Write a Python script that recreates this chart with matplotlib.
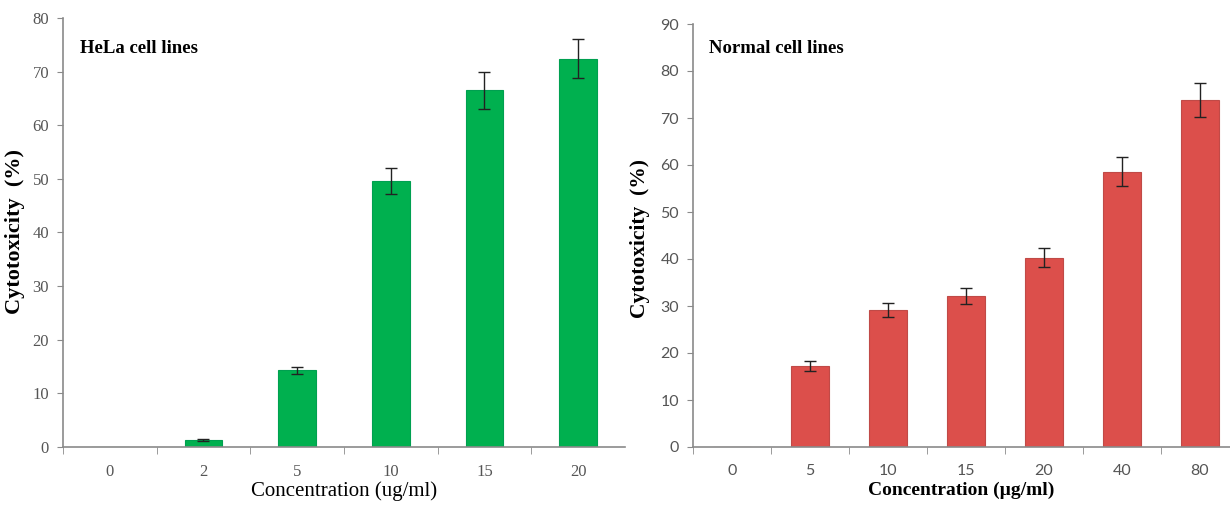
import matplotlib.pyplot as plt
import numpy as np

# Dati
hela_conc = ['0', '2', '5', '10', '15', '20']
hela_vals = [0, 1.3, 14.3, 49.6, 66.5, 72.4]
hela_err = [0, 0.2, 0.6, 2.4, 3.5, 3.6]

norm_conc = ['0', '5', '10', '15', '20', '40', '80']
norm_vals = [0, 17.2, 29.2, 32.2, 40.3, 58.6, 73.8]
norm_err = [0, 1.0, 1.5, 1.7, 2.0, 3.0, 3.6]

GRIGIO = '#8a8a8a'
TESTO = '#555555'

fig = plt.figure(figsize=(12.3, 5.05), dpi=100)
ax1 = fig.add_axes([63 / 1230, 58 / 505, 562 / 1230, 429 / 505])
ax2 = fig.add_axes([693 / 1230, 58 / 505, 537 / 1230, 423 / 505])


def stile_assi(ax, n, xmax, ymax, tick_font, tick_size):
    for s in ['top', 'right']:
        ax.spines[s].set_visible(False)
    for s in ['left', 'bottom']:
        ax.spines[s].set_color(GRIGIO)
        ax.spines[s].set_linewidth(1.2)
    ax.set_xlim(-0.5, xmax)
    ax.set_ylim(0, ymax)
    ax.set_yticks(np.arange(0, ymax + 1, 10))
    ax.set_xticks(np.arange(n) - 0.5, minor=True)
    ax.tick_params(axis='x', which='major', length=0, pad=12)
    ax.tick_params(axis='x', which='minor', length=5, color=GRIGIO, direction='out')
    ax.tick_params(axis='y', length=4, color=GRIGIO, pad=6)
    for lab in ax.get_xticklabels() + ax.get_yticklabels():
        lab.set_fontfamily(tick_font)
        lab.set_fontsize(tick_size)
        lab.set_color(TESTO)


# Pannello HeLa
x1 = np.arange(len(hela_conc))
ax1.bar(x1, hela_vals, width=0.4, color='#00b04f', edgecolor='#00a050', linewidth=0.8)
ax1.errorbar(x1[1:], hela_vals[1:], yerr=hela_err[1:], fmt='none', ecolor='#222222',
             elinewidth=1.0, capsize=4, capthick=1.0)
ax1.set_xticks(x1)
ax1.set_xticklabels(hela_conc)
stile_assi(ax1, len(hela_conc), len(hela_conc) - 0.5, 80, 'Liberation Serif', 12)
ax1.set_ylabel('Cytotoxicity  (%)', fontfamily='Liberation Serif', fontweight='bold',
               fontsize=16)
ax1.yaxis.set_label_coords(-0.068, 0.503)
ax1.set_xlabel('Concentration (ug/ml)', fontfamily='Liberation Serif', fontsize=15)
ax1.xaxis.set_label_coords(0.5, -0.08)
ax1.text(0.03, 0.93, 'HeLa cell lines', transform=ax1.transAxes, fontfamily='Liberation Serif',
         fontweight='bold', fontsize=13.5, va='center', ha='left')

# Pannello cellule normali
x2 = np.arange(len(norm_conc))
ax2.bar(x2, norm_vals, width=0.48, color='#dc4f4b', edgecolor='#c04a47', linewidth=0.8)
ax2.errorbar(x2[1:], norm_vals[1:], yerr=norm_err[1:], fmt='none', ecolor='#222222',
             elinewidth=1.0, capsize=4, capthick=1.0)
ax2.set_xticks(x2)
ax2.set_xticklabels(norm_conc)
stile_assi(ax2, len(norm_conc), -0.5 + 537 / 78, 90, 'Lato', 11.5)
ax2.set_ylabel('Cytotoxicity  (%)', fontfamily='Liberation Serif', fontweight='bold',
               fontsize=15.5)
ax2.yaxis.set_label_coords(-0.08, 0.494)
ax2.set_xlabel('Concentration (µg/ml)', fontfamily='Liberation Serif', fontweight='bold',
               fontsize=14)
ax2.xaxis.set_label_coords(0.5, -0.081)
ax2.text(0.03, 0.943, 'Normal cell lines', transform=ax2.transAxes, fontfamily='Liberation Serif',
         fontweight='bold', fontsize=13.5, va='center', ha='left')

fig.savefig('out.png', dpi=100)
